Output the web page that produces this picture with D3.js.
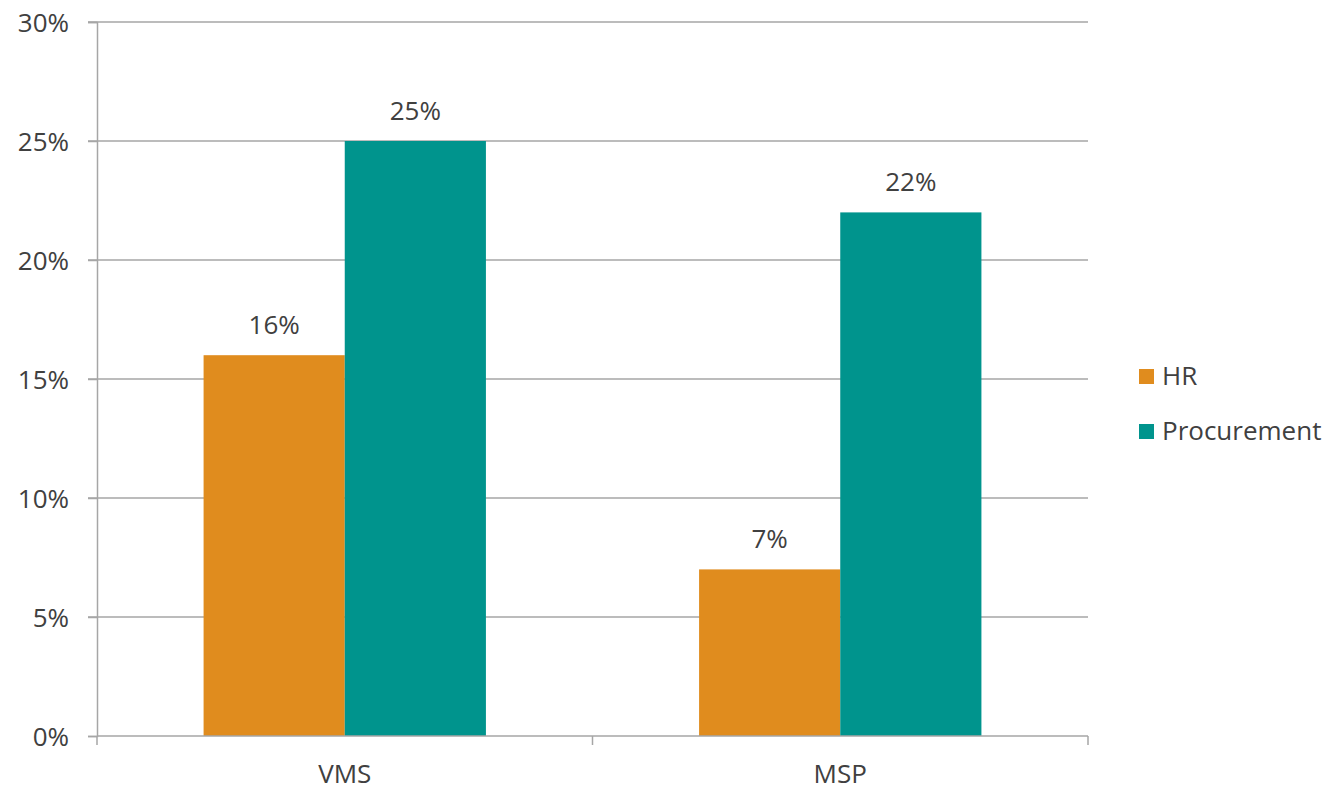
<!DOCTYPE html>
<html>
<head>
<meta charset="utf-8">
<script src="https://cdn.jsdelivr.net/npm/d3@7"></script>
<style>
  html, body { margin: 0; padding: 0; background: #fff; }
  svg { display: block; font-family: "Open Sans", Lato, sans-serif; }
</style>
</head>
<body>
<svg id="chart" width="1336" height="791"></svg>
<script>
// Share of respondents by function, per program type
const categories = ["VMS", "MSP"];
const seriesNames = ["HR", "Procurement"];
const hrValues = [16, 7];
const procurementValues = [25, 22];
const yTicks = [0, 5, 10, 15, 20, 25, 30];
const seriesColors = ["#E08C1E", "#00948D"];

const svg = d3.select("#chart");
const W = 1336, H = 791;
const innerL = 97, innerR = 1088;
const innerT = 22, innerB = 736;
const fontSize = "26px";

const x = d3.scaleBand().domain(categories).range([innerL, innerR]).paddingInner(0).paddingOuter(0);
const xSub = d3.scaleBand().domain(seriesNames).range([0, x.bandwidth()]).paddingInner(0).paddingOuter(0.755);
const y = d3.scaleLinear().domain([0, 30]).range([innerB, innerT]);

const textColor = "#404040";
const gridColor = "#A6A6A6";

// horizontal gridlines with small ticks left of the axis
svg.append("g")
  .selectAll("line")
  .data(yTicks.filter(t => t > 0))
  .join("line")
  .attr("x1", innerL - 9).attr("x2", innerR)
  .attr("y1", d => y(d)).attr("y2", d => y(d))
  .attr("stroke", gridColor).attr("stroke-width", 1.5);

// y axis
const yAxis = d3.axisLeft(y).tickValues(yTicks).tickFormat(d => d + "%").tickSize(9).tickPadding(19);
const gy = svg.append("g").attr("transform", `translate(${innerL},0)`).call(yAxis)
  .attr("font-family", null).attr("font-size", null);
gy.select(".domain").attr("stroke", gridColor).attr("stroke-width", 1.5);
gy.selectAll(".tick line").attr("stroke", gridColor).attr("stroke-width", 1.5);
gy.selectAll(".tick text").attr("fill", textColor).style("font-size", fontSize).attr("dy", "0.35em");

// bars
const data = categories.map((c, i) => ({ cat: c, values: [hrValues[i], procurementValues[i]] }));
const groups = svg.append("g").selectAll("g")
  .data(data).join("g")
  .attr("transform", d => `translate(${x(d.cat)},0)`);

groups.selectAll("rect")
  .data(d => d.values.map((v, j) => ({ name: seriesNames[j], v, j })))
  .join("rect")
  .attr("x", d => xSub(d.name))
  .attr("width", xSub.bandwidth())
  .attr("y", d => y(d.v))
  .attr("height", d => y(0) - y(d.v))
  .attr("fill", d => seriesColors[d.j]);

groups.selectAll("text")
  .data(d => d.values.map((v, j) => ({ name: seriesNames[j], v, j })))
  .join("text")
  .attr("x", d => xSub(d.name) + xSub.bandwidth() / 2)
  .attr("y", d => y(d.v) - 21)
  .attr("text-anchor", "middle")
  .attr("fill", textColor)
  .style("font-size", fontSize)
  .text(d => d.v + "%");

// x axis
const xAxis = d3.axisBottom(x).tickSize(0).tickPadding(29);
const gx = svg.append("g").attr("transform", `translate(0,${innerB})`).call(xAxis)
  .attr("font-family", null).attr("font-size", null);
gx.select(".domain").remove();
gx.append("line").attr("x1", innerL).attr("x2", innerR).attr("stroke", gridColor).attr("stroke-width", 1.5);
gx.selectAll(".tick text").attr("fill", textColor).style("font-size", fontSize).attr("dy", "0.71em");
// category boundary ticks
const bounds = [innerL, ...categories.map(c => x(c) + x.bandwidth())];
gx.selectAll(".bound").data(bounds).join("line")
  .attr("class", "bound")
  .attr("x1", d => d).attr("x2", d => d)
  .attr("y1", 0).attr("y2", 9)
  .attr("stroke", gridColor).attr("stroke-width", 1.5);

// legend
const legend = svg.append("g").attr("transform", "translate(1139,0)");
const legendY = [376, 431];
seriesNames.forEach((name, i) => {
  legend.append("rect")
    .attr("x", 0).attr("y", legendY[i] - 7)
    .attr("width", 15).attr("height", 15)
    .attr("fill", seriesColors[i]);
  legend.append("text")
    .attr("x", 23).attr("y", legendY[i])
    .attr("dy", "0.35em")
    .attr("fill", textColor)
    .style("font-size", fontSize)
    .text(name);
});
</script>
</body>
</html>
